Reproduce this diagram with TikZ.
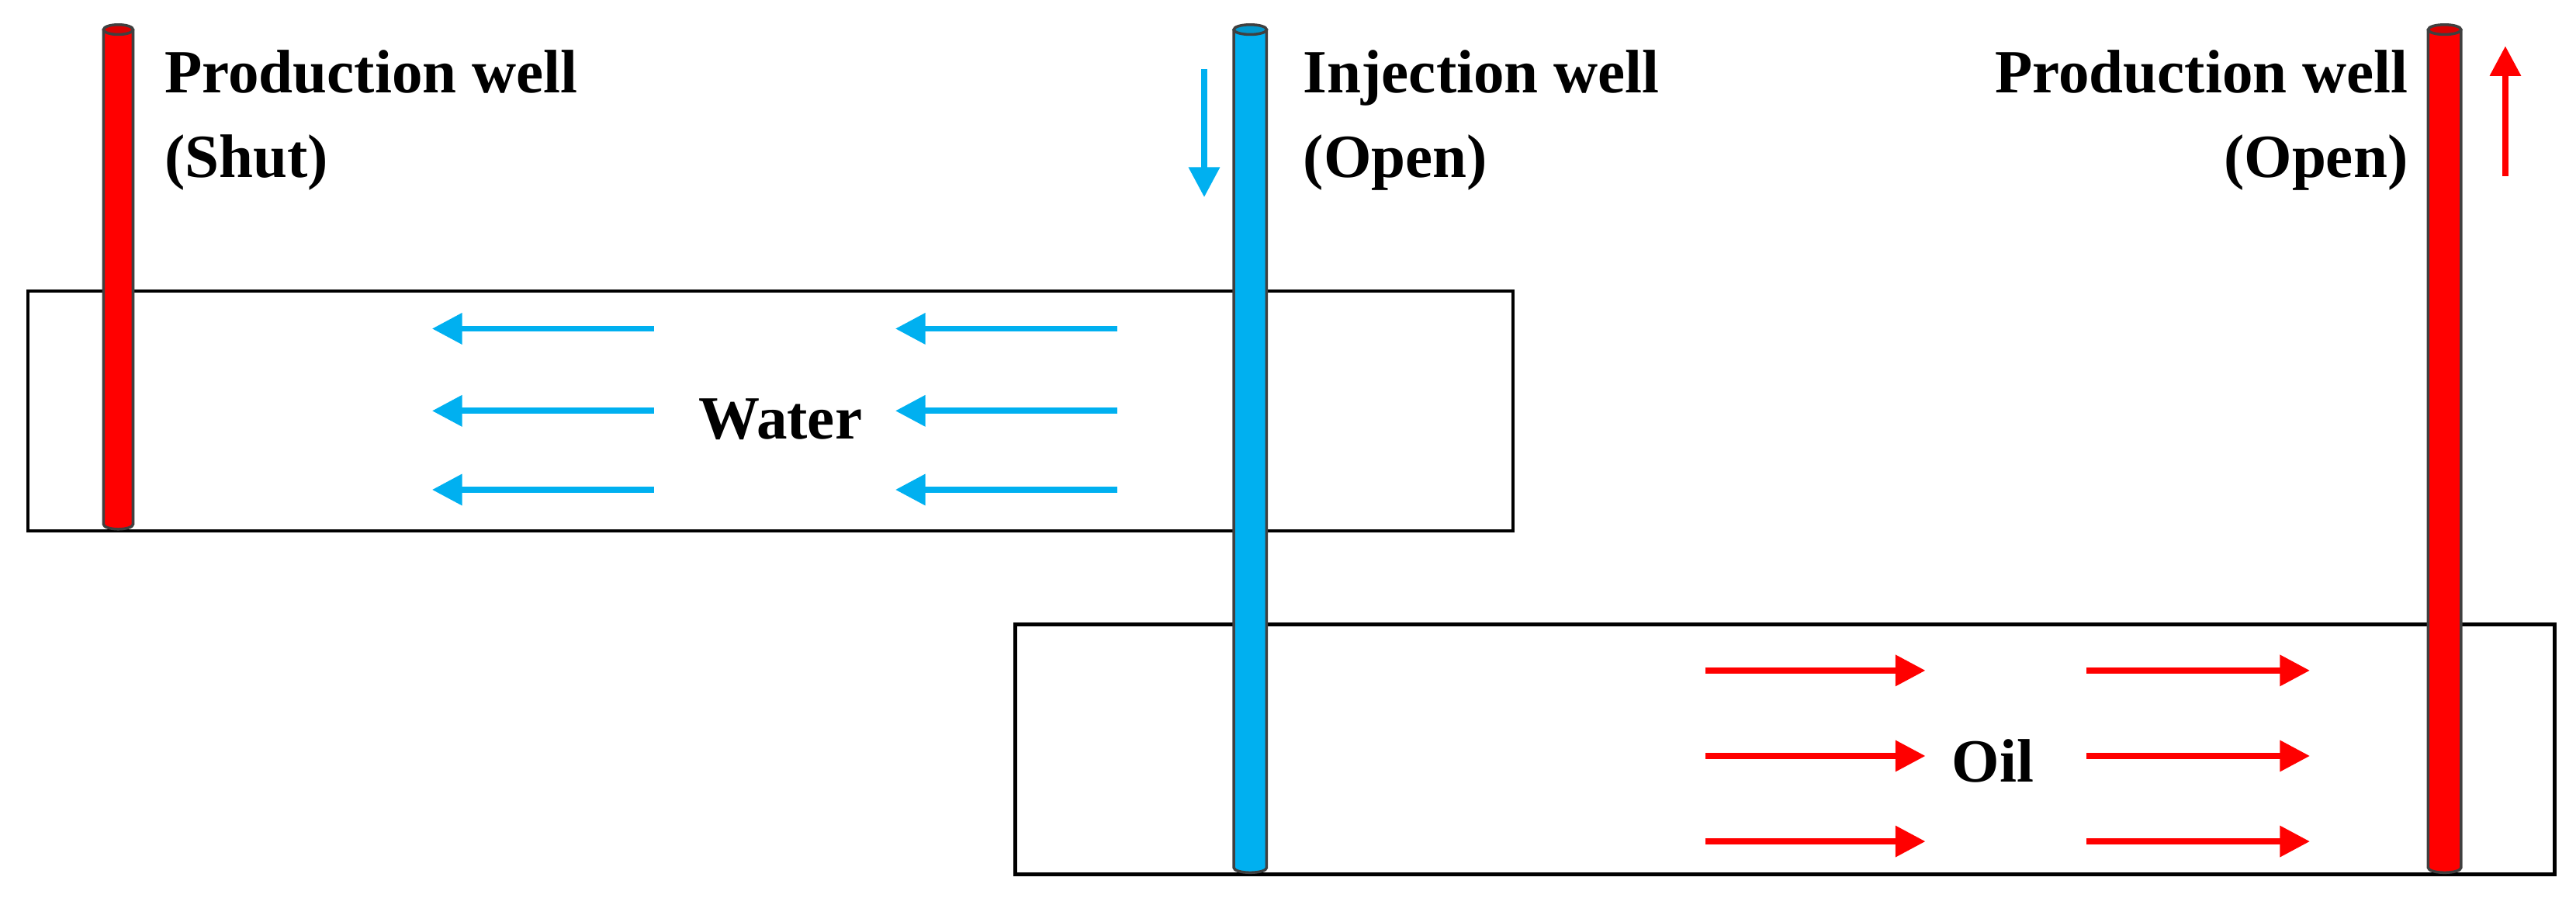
\documentclass[tikz,border=0pt]{standalone}
\usepackage{fontspec}
\setmainfont{Liberation Serif}
\usetikzlibrary{arrows.meta}
\definecolor{wblue}{HTML}{00B0F0}
\definecolor{wred}{HTML}{FF0000}
\begin{document}
\begin{tikzpicture}[x=0.021173cm,y=-0.021173cm,
  lbl/.style={font=\fontsize{22.5}{31}\selectfont\bfseries,align=left,inner sep=0},
  box/.style={draw=black,line width=1.2pt},
  flow/.style={line width=2.2pt,-{Triangle[length=11pt,width=11pt]}},
  well/.style={draw=black!75,line width=1pt}]
\useasboundingbox (0,0) rectangle (1568,546);
\draw[box] (17,177) rectangle (921,323);
\draw[box] (618,380) rectangle (1555,532);
\newcommand{\wellshape}[5]{% cx, top, bottom, halfwidth, color
  \filldraw[well,fill=#5] (#1-#4,#2) -- (#1-#4,#3) arc[start angle=180,end angle=0,x radius=#4,y radius=3] -- (#1+#4,#2);
  \filldraw[well,fill=#5!85!black] (#1,#2) ellipse[x radius=#4,y radius=3];}
\wellshape{72}{18}{319}{9}{wred}
\wellshape{761}{18}{528}{10}{wblue}
\wellshape{1488}{18}{528}{10}{wred}
\node[lbl,anchor=north west] (l1) at (100,30) {Production well\\(Shut)};
\node[lbl,anchor=north west] (l2) at (793,30) {Injection well\\(Open)};
\node[lbl,anchor=north east,align=right] (l3) at (1466,30) {Production well\\(Open)};
\node[lbl] (w) at (475,255) {Water};
\node[lbl] (o) at (1213,463) {Oil};
\coordinate (da) at (733,42); \coordinate (db) at (733,120);
\draw[flow,wblue] (da) -- (db);
\coordinate (ua) at (1525,107); \coordinate (ub) at (1525,28);
\draw[flow,wred] (ua) -- (ub);
\foreach \y in {200,250,298}{
  \draw[flow,wblue] (398,\y) -- (263,\y);
  \draw[flow,wblue] (680,\y) -- (545,\y);}
\foreach \y in {408,460,512}{
  \draw[flow,wred] (1038,\y) -- (1172,\y);
  \draw[flow,wred] (1270,\y) -- (1406,\y);}
\end{tikzpicture}
\end{document}
